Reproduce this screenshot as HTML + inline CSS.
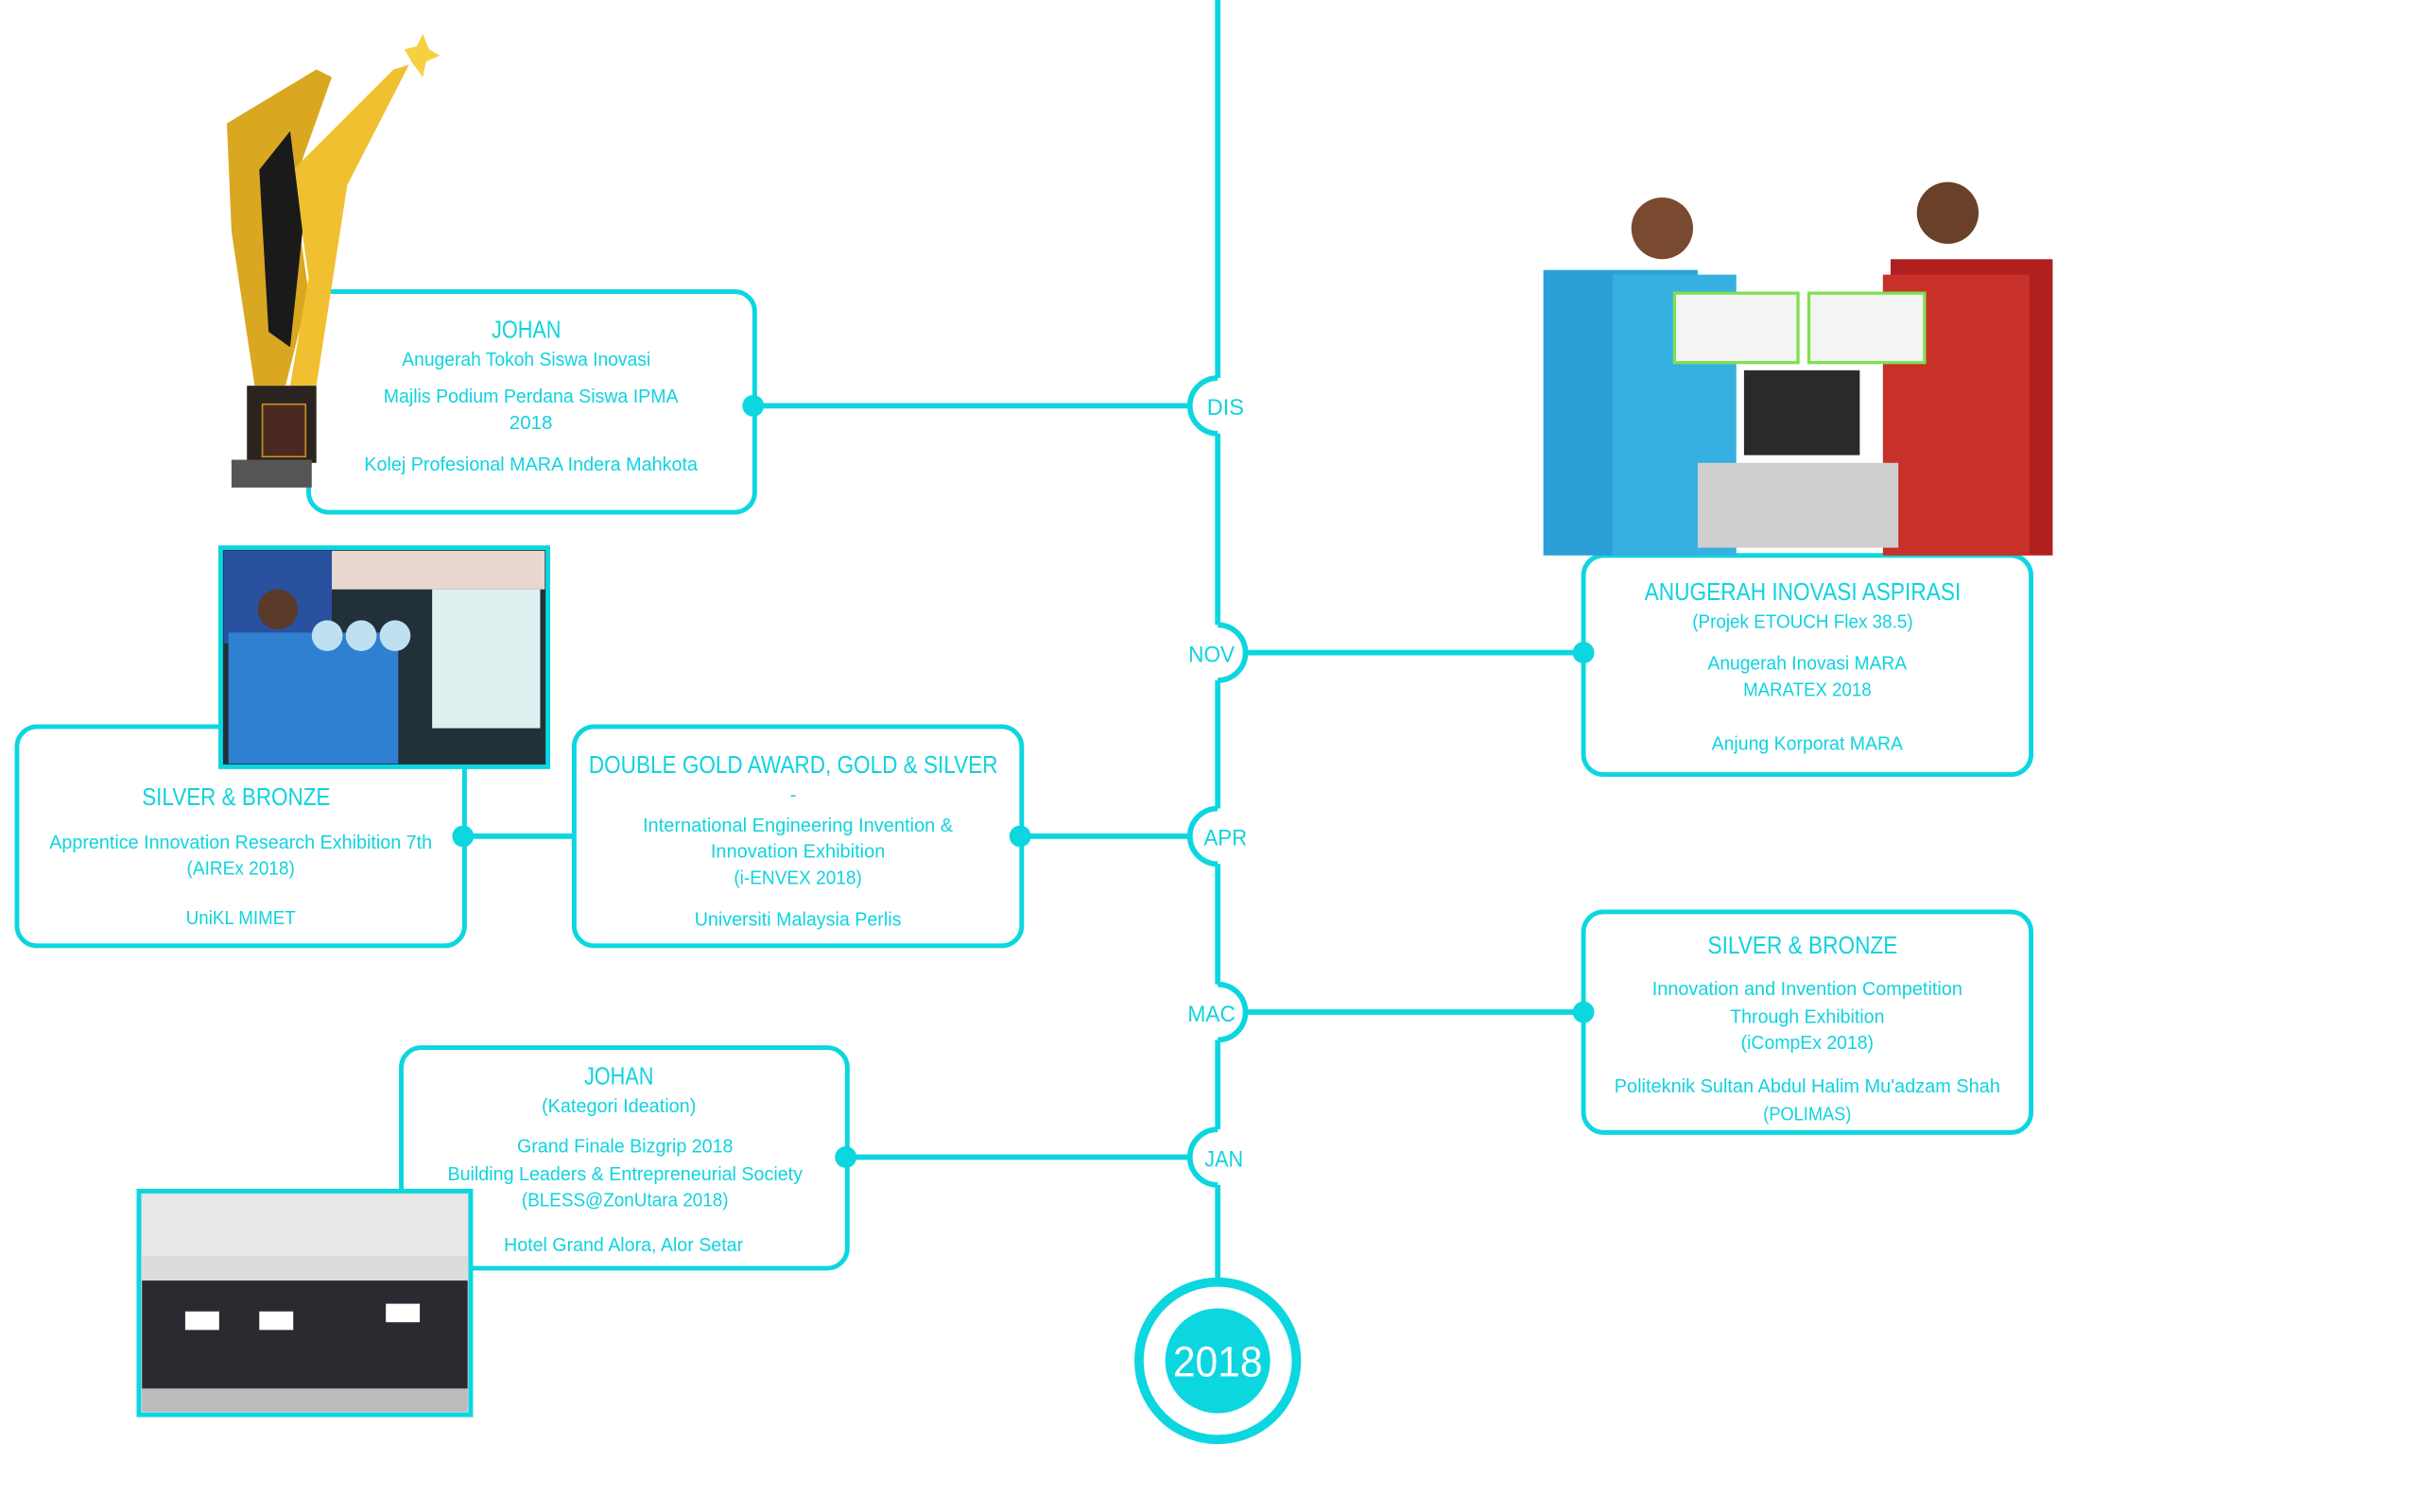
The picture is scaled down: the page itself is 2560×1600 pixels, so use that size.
<!DOCTYPE html>
<html><head><meta charset="utf-8"><style>
html,body{margin:0;padding:0;background:#fff;}
svg{display:block}
text{font-family:"Liberation Sans Narrow","Liberation Sans",sans-serif;fill:#0fd3df;text-anchor:middle}
.t{font-size:16px}
.b{font-size:12.5px}
.m{font-size:15px}
</style></head><body>
<svg width="2560" height="1600" viewBox="0 0 1568 980" xmlns="http://www.w3.org/2000/svg">
<g stroke="#0cd6e0" fill="none">
<line x1="789" y1="0" x2="789" y2="830" stroke-width="3.5"/>
<line x1="488" y1="263" x2="772" y2="263" stroke-width="3.5"/>
<line x1="806" y1="423" x2="1026" y2="423" stroke-width="3.5"/>
<line x1="661" y1="542" x2="772" y2="542" stroke-width="3.5"/>
<line x1="300" y1="542" x2="372" y2="542" stroke-width="3.5"/>
<line x1="806" y1="656" x2="1026" y2="656" stroke-width="3.5"/>
<line x1="548" y1="750" x2="772" y2="750" stroke-width="3.5"/>
<rect x="200" y="189" width="289" height="143" rx="13" stroke-width="3"/>
<rect x="1026" y="360" width="290" height="142" rx="13" stroke-width="3"/>
<rect x="11" y="471" width="290" height="142" rx="13" stroke-width="3"/>
<rect x="372" y="471" width="290" height="142" rx="13" stroke-width="3"/>
<rect x="1026" y="591" width="290" height="143" rx="13" stroke-width="3"/>
<rect x="260" y="679" width="289" height="143" rx="13" stroke-width="3"/>
</g>
<g fill="#fff">
<rect x="786" y="245" width="6" height="36"/>
<rect x="786" y="405" width="6" height="36"/>
<rect x="786" y="524" width="6" height="36"/>
<rect x="786" y="638" width="6" height="36"/>
<rect x="786" y="732" width="6" height="36"/>
</g>
<g stroke="#0cd6e0" stroke-width="3.5" fill="none">
<path d="M789 245 A18 18 0 0 0 789 281"/>
<path d="M789 405 A18 18 0 0 1 789 441"/>
<path d="M789 524 A18 18 0 0 0 789 560"/>
<path d="M789 638 A18 18 0 0 1 789 674"/>
<path d="M789 732 A18 18 0 0 0 789 768"/>
</g>
<text x="794" y="269" class="m" textLength="24" lengthAdjust="spacingAndGlyphs">DIS</text>
<text x="785" y="429" class="m" textLength="30" lengthAdjust="spacingAndGlyphs">NOV</text>
<text x="794" y="548" class="m" textLength="28" lengthAdjust="spacingAndGlyphs">APR</text>
<text x="785" y="662" class="m" textLength="31" lengthAdjust="spacingAndGlyphs">MAC</text>
<text x="793" y="756" class="m" textLength="25" lengthAdjust="spacingAndGlyphs">JAN</text>
<g fill="#0cd6e0">
<circle cx="488" cy="263" r="7"/>
<circle cx="1026" cy="423" r="7"/>
<circle cx="661" cy="542" r="7"/>
<circle cx="300" cy="542" r="7"/>
<circle cx="1026" cy="656" r="7"/>
<circle cx="548" cy="750" r="7"/>
</g>
<circle cx="789" cy="882" r="51" fill="#fff" stroke="#0cd6e0" stroke-width="6"/>
<circle cx="789" cy="882" r="34" fill="#0cd6e0"/>
<text x="789" y="892" style="font-size:28px;fill:#fff" textLength="58" lengthAdjust="spacingAndGlyphs">2018</text>

<!-- trophy -->
<polygon points="147,80 205,45 215,50 190,120 200,190 185,250 165,250 150,150" fill="#d9a820"/>
<polygon points="190,110 255,45 265,42 225,120 205,250 188,250 200,180" fill="#f0c030"/>
<polygon points="168,110 188,85 196,150 188,225 174,215" fill="#1a1a1a"/>
<polygon points="262,32 270,30 274,22 278,32 285,36 276,40 274,50 268,42" fill="#f5d040"/>
<rect x="160" y="250" width="45" height="50" fill="#2b2320"/>
<rect x="170" y="262" width="28" height="34" fill="#4a2a20" stroke="#c89020" stroke-width="1"/>
<rect x="150" y="298" width="52" height="18" fill="#555"/>
<!-- photo nov -->
<rect x="1000" y="175" width="100" height="185" fill="#2ba0d8"/>
<circle cx="1077" cy="148" r="20" fill="#7a4a30"/>
<rect x="1045" y="178" width="80" height="182" fill="#35b0e0"/>
<rect x="1225" y="168" width="105" height="192" fill="#b02020"/>
<circle cx="1262" cy="138" r="20" fill="#6a4028"/>
<rect x="1220" y="178" width="95" height="182" fill="#c8302a"/>
<rect x="1100" y="300" width="130" height="55" fill="#cfcfcf"/>
<rect x="1130" y="240" width="75" height="55" fill="#2a2a2a"/>
<rect x="1085" y="190" width="80" height="45" fill="#f4f4f4" stroke="#7ee050" stroke-width="2"/>
<rect x="1172" y="190" width="75" height="45" fill="#f4f4f4" stroke="#7ee050" stroke-width="2"/>
<!-- photo airex -->
<rect x="143" y="355" width="212" height="142" fill="#22303a" stroke="#0cd6e0" stroke-width="3"/>
<rect x="145" y="357" width="70" height="60" fill="#2a50a0"/>
<rect x="215" y="357" width="138" height="25" fill="#e8d8d0"/>
<rect x="280" y="382" width="70" height="90" fill="#e0f0f0"/>
<rect x="148" y="410" width="110" height="85" fill="#2f80d0"/>
<circle cx="180" cy="395" r="13" fill="#5a3a28"/>
<circle cx="212" cy="412" r="10" fill="#bfe0f0"/>
<circle cx="234" cy="412" r="10" fill="#bfe0f0"/>
<circle cx="256" cy="412" r="10" fill="#bfe0f0"/>
<!-- photo bless -->
<rect x="90" y="772" width="215" height="145" fill="#dcdcdc" stroke="#0cd6e0" stroke-width="3"/>
<rect x="92" y="774" width="211" height="40" fill="#e8e8e8"/>
<rect x="92" y="830" width="211" height="70" fill="#2a2a30"/>
<rect x="92" y="900" width="211" height="15" fill="#bbb"/>
<g fill="#fff"><rect x="120" y="850" width="22" height="12"/><rect x="168" y="850" width="22" height="12"/><rect x="250" y="845" width="22" height="12"/></g>

<g lengthAdjust="spacingAndGlyphs">
<text x="341" y="219" class="t" textLength="45" lengthAdjust="spacingAndGlyphs">JOHAN</text>
<text x="341" y="237" class="b" textLength="161" lengthAdjust="spacingAndGlyphs">Anugerah Tokoh Siswa Inovasi</text>
<text x="344" y="261" class="b" textLength="191" lengthAdjust="spacingAndGlyphs">Majlis Podium Perdana Siswa IPMA</text>
<text x="344" y="278" class="b" textLength="28" lengthAdjust="spacingAndGlyphs">2018</text>
<text x="344" y="305" class="b" textLength="216" lengthAdjust="spacingAndGlyphs">Kolej Profesional MARA Indera Mahkota</text>

<text x="1168" y="389" class="t" textLength="205" lengthAdjust="spacingAndGlyphs">ANUGERAH INOVASI ASPIRASI</text>
<text x="1168" y="407" class="b" textLength="143" lengthAdjust="spacingAndGlyphs">(Projek ETOUCH Flex 38.5)</text>
<text x="1171" y="434" class="b" textLength="129" lengthAdjust="spacingAndGlyphs">Anugerah Inovasi MARA</text>
<text x="1171" y="451" class="b" textLength="83" lengthAdjust="spacingAndGlyphs">MARATEX 2018</text>
<text x="1171" y="486" class="b" textLength="124" lengthAdjust="spacingAndGlyphs">Anjung Korporat MARA</text>

<text x="153" y="522" class="t" textLength="122" lengthAdjust="spacingAndGlyphs">SILVER &amp; BRONZE</text>
<text x="156" y="550" class="b" textLength="248" lengthAdjust="spacingAndGlyphs">Apprentice Innovation Research Exhibition 7th</text>
<text x="156" y="567" class="b" textLength="70" lengthAdjust="spacingAndGlyphs">(AIREx 2018)</text>
<text x="156" y="599" class="b" textLength="71" lengthAdjust="spacingAndGlyphs">UniKL MIMET</text>

<text x="514" y="501" class="t" textLength="265" lengthAdjust="spacingAndGlyphs">DOUBLE GOLD AWARD, GOLD &amp; SILVER</text>
<text x="514" y="519" class="b">-</text>
<text x="517" y="539" class="b" textLength="201" lengthAdjust="spacingAndGlyphs">International Engineering Invention &amp;</text>
<text x="517" y="556" class="b" textLength="113" lengthAdjust="spacingAndGlyphs">Innovation Exhibition</text>
<text x="517" y="573" class="b" textLength="83" lengthAdjust="spacingAndGlyphs">(i-ENVEX 2018)</text>
<text x="517" y="600" class="b" textLength="134" lengthAdjust="spacingAndGlyphs">Universiti Malaysia Perlis</text>

<text x="1168" y="618" class="t" textLength="123" lengthAdjust="spacingAndGlyphs">SILVER &amp; BRONZE</text>
<text x="1171" y="645" class="b" textLength="201" lengthAdjust="spacingAndGlyphs">Innovation and Invention Competition</text>
<text x="1171" y="663" class="b" textLength="100" lengthAdjust="spacingAndGlyphs">Through Exhibition</text>
<text x="1171" y="680" class="b" textLength="86" lengthAdjust="spacingAndGlyphs">(iCompEx 2018)</text>
<text x="1171" y="708" class="b" textLength="250" lengthAdjust="spacingAndGlyphs">Politeknik Sultan Abdul Halim Mu'adzam Shah</text>
<text x="1171" y="726" class="b" textLength="57" lengthAdjust="spacingAndGlyphs">(POLIMAS)</text>

<text x="401" y="703" class="t" textLength="45" lengthAdjust="spacingAndGlyphs">JOHAN</text>
<text x="401" y="721" class="b" textLength="100" lengthAdjust="spacingAndGlyphs">(Kategori Ideation)</text>
<text x="405" y="747" class="b" textLength="140" lengthAdjust="spacingAndGlyphs">Grand Finale Bizgrip 2018</text>
<text x="405" y="765" class="b" textLength="230" lengthAdjust="spacingAndGlyphs">Building Leaders &amp; Entrepreneurial Society</text>
<text x="405" y="782" class="b" textLength="134" lengthAdjust="spacingAndGlyphs">(BLESS@ZonUtara 2018)</text>
<text x="404" y="811" class="b" textLength="155" lengthAdjust="spacingAndGlyphs">Hotel Grand Alora, Alor Setar</text>
</g>
</svg>
</body></html>
